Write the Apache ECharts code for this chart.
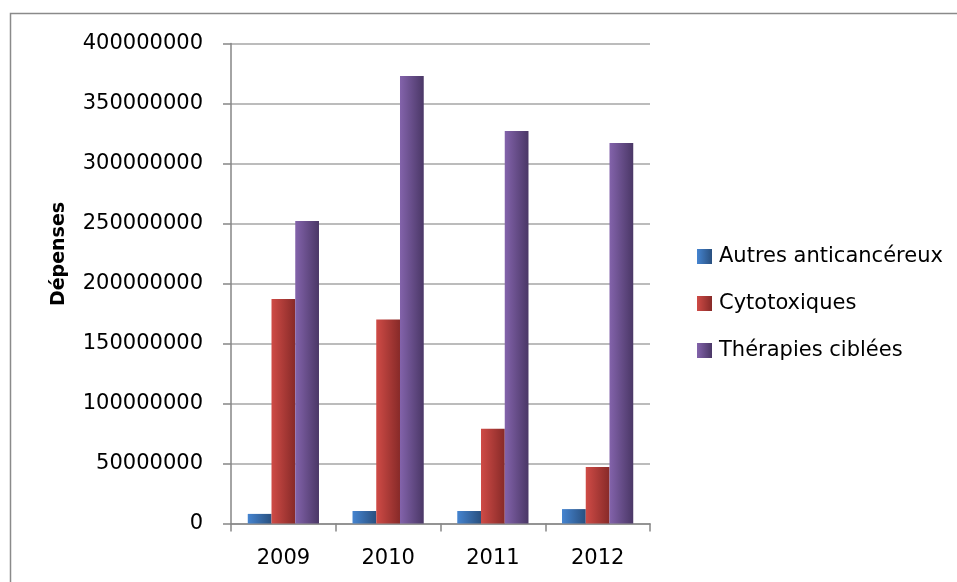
<!DOCTYPE html>
<html>
<head>
<meta charset="utf-8">
<script src="https://cdn.jsdelivr.net/npm/echarts@6/dist/echarts.min.js"></script>
<style>
    html, body { margin: 0; padding: 0; background: #fff; }
    #chart_con { width: 957px; height: 582px; }
</style>
</head>
<body>
<div id="chart_con"></div>
<script>
// Dépenses par année et par type de médicament
var years = ['2009', '2010', '2011', '2012'];
var autres = [8000000, 10400000, 10400000, 12000000];
var cytotoxiques = [187000000, 170000000, 79000000, 47000000];
var therapies = [252000000, 373000000, 327000000, 317000000];
var yTicks = { min: 0, max: 400000000, interval: 50000000 };

var FONT = 'DejaVu Sans';

function grad(c1, c2) {
    return new echarts.graphic.LinearGradient(0, 0, 1, 0, [
        { offset: 0, color: c1 },
        { offset: 1, color: c2 }
    ]);
}

var chart = echarts.init(document.getElementById('chart_con'));

function barSerie(name, data, c1, c2) {
    return {
        name: name,
        type: 'bar',
        data: data,
        barGap: 0,
        barCategoryGap: '32%',
        itemStyle: { color: grad(c1, c2) }
    };
}

var option = {
    animation: false,
    backgroundColor: '#fff',
    grid: {
        left: 231,
        right: 307,
        top: 43.5,
        bottom: 58.5
    },
    legend: {
        orient: 'vertical',
        left: 692,
        top: 241,
        itemWidth: 15,
        itemHeight: 15,
        itemGap: 26,
        icon: 'rect',
        textStyle: { fontFamily: FONT, fontSize: 21, color: '#000', padding: [0, 0, 0, 2] },
        data: ['Autres anticancéreux', 'Cytotoxiques', 'Thérapies ciblées']
    },
    xAxis: {
        type: 'category',
        data: years,
        axisLine: { lineStyle: { color: '#868686', width: 1.5 } },
        axisTick: { show: true, length: 8, lineStyle: { color: '#868686', width: 1.5 } },
        axisLabel: { fontFamily: FONT, fontSize: 21, color: '#000', margin: 25 }
    },
    yAxis: {
        type: 'value',
        min: yTicks.min,
        max: yTicks.max,
        interval: yTicks.interval,
        axisLine: { show: true, lineStyle: { color: '#868686', width: 1.5 } },
        axisTick: { show: true, length: 8, lineStyle: { color: '#868686', width: 1.5 } },
        axisLabel: {
            fontFamily: FONT, fontSize: 21, color: '#000', margin: 28,
            formatter: function (v) { return String(v); }
        },
        splitLine: { lineStyle: { color: '#a6a6a6', width: 1.5 } }
    },
    graphic: [
        {
            // cadre du graphique (coupé à droite et en bas)
            type: 'polyline',
            shape: { points: [[10.5, 700], [10.5, 13.5], [1100, 13.5]] },
            style: { fill: null, stroke: '#8a8a8a', lineWidth: 1.5 },
            silent: true
        },
        {
            type: 'text',
            x: 59, y: 254,
            rotation: Math.PI / 2,
            style: {
                text: 'Dépenses',
                fontFamily: FONT,
                fontSize: 19,
                fontWeight: 'bold',
                fill: '#000',
                align: 'center',
                verticalAlign: 'middle'
            }
        }
    ],
    series: [
        barSerie('Autres anticancéreux', autres, '#4584d0', '#29507f'),
        barSerie('Cytotoxiques', cytotoxiques, '#cf4b46', '#872a28'),
        barSerie('Thérapies ciblées', therapies, '#8363ab', '#4a3766')
    ]
};

chart.setOption(option);

window.addEventListener('resize', function () {
    chart.resize();
});
</script>
</body>
</html>
